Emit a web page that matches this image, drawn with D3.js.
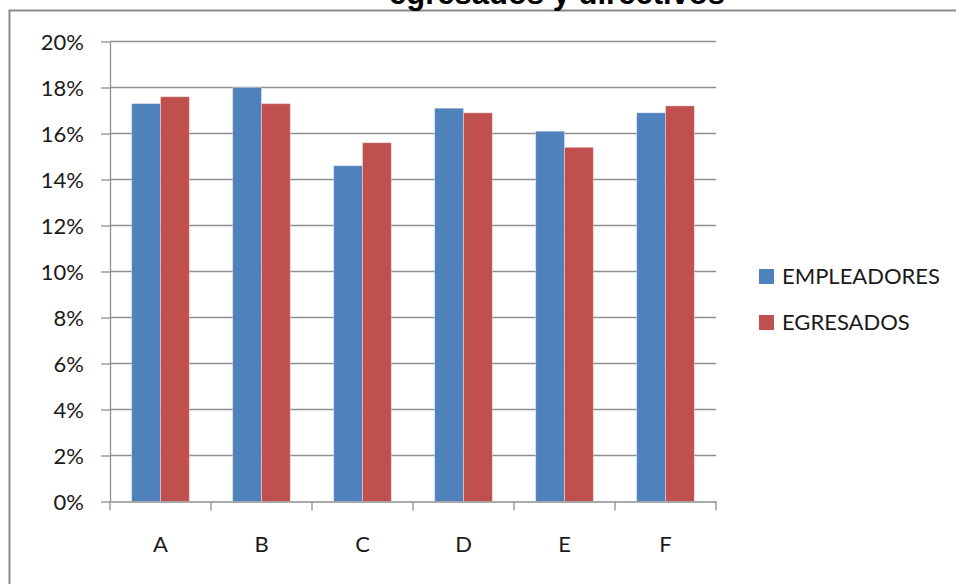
<!DOCTYPE html>
<html>
<head>
<meta charset="utf-8">
<script src="https://cdn.jsdelivr.net/npm/d3@7"></script>
<style>
  html, body { margin: 0; padding: 0; background: #fff; }
  svg { display: block; }
  .lbl { font-family: Lato, "Open Sans", sans-serif; fill: #1a1a1a; }
</style>
</head>
<body>
<svg id="chart" width="956" height="584"></svg>
<script>
// Category labels and the two survey series (share of responses per item)
const categories = ["A", "B", "C", "D", "E", "F"];
const seriesNames = ["EMPLEADORES", "EGRESADOS"];
const empleadores = [0.173, 0.180, 0.146, 0.171, 0.161, 0.169];
const egresados   = [0.176, 0.173, 0.156, 0.169, 0.154, 0.172];
const yTicks = [0, 0.02, 0.04, 0.06, 0.08, 0.10, 0.12, 0.14, 0.16, 0.18, 0.20];
const colors = ["#4F81BD", "#C0504D"];
const titleText = "egresados y directivos";

const svg = d3.select("#chart");
const W = 956, H = 584;
const plot = { left: 110, right: 716, top: 41.5, bottom: 501.5 };

// Chart area frame (extends beyond the visible canvas on the right and bottom)
svg.append("rect")
  .attr("x", 9.5).attr("y", 10.5)
  .attr("width", W + 20).attr("height", H + 20)
  .attr("fill", "#fff")
  .attr("stroke", "#8a8a8a").attr("stroke-width", 2);

// Title, partially cut off by the top edge
svg.append("text")
  .attr("x", 557).attr("y", 3.5)
  .attr("text-anchor", "middle")
  .style("font-family", "'Liberation Sans', Arial, sans-serif")
  .style("font-weight", "bold")
  .style("font-size", "31px")
  .attr("fill", "#000")
  .text(titleText);

const x0 = d3.scaleBand().domain(categories).range([plot.left, plot.right]).paddingInner(0).paddingOuter(0);
// Excel-style 150% gap width: each band = 2 bars + 1.5 bar widths of gap
const barW = x0.bandwidth() / 3.5;
const x1 = d3.scaleBand().domain(seriesNames).range([0.75 * barW, 2.75 * barW]).padding(0);
const y = d3.scaleLinear().domain([0, 0.20]).range([plot.bottom, plot.top]);

// Horizontal gridlines
svg.append("g")
  .selectAll("line")
  .data(yTicks.slice(1))
  .join("line")
  .attr("x1", plot.left).attr("x2", plot.right)
  .attr("y1", d => y(d)).attr("y2", d => y(d))
  .attr("stroke", "#8f8f8f").attr("stroke-width", 1.3);

// Bars
const rows = categories.map((c, i) => ({ cat: c, vals: [empleadores[i], egresados[i]] }));
svg.append("g")
  .selectAll("g")
  .data(rows)
  .join("g")
  .attr("transform", d => `translate(${x0(d.cat)},0)`)
  .selectAll("rect")
  .data(d => d.vals.map((v, k) => ({ name: seriesNames[k], v, k })))
  .join("rect")
  .attr("x", d => x1(d.name))
  .attr("width", x1.bandwidth())
  .attr("y", d => y(d.v))
  .attr("height", d => y(0) - y(d.v))
  .attr("fill", d => colors[d.k])
  .attr("stroke", "rgba(255,255,255,0.35)")
  .attr("stroke-width", 1);

// Y axis
const yAxis = d3.axisLeft(y)
  .tickValues(yTicks)
  .tickFormat(d3.format(".0%"))
  .tickSize(9)
  .tickPadding(17)
  .tickSizeOuter(0);
const gy = svg.append("g").attr("transform", `translate(${plot.left},0)`).call(yAxis);
gy.select(".domain").attr("stroke", "#8f8f8f").attr("stroke-width", 1.3);
gy.selectAll(".tick line").attr("stroke", "#8f8f8f").attr("stroke-width", 1.3);
gy.selectAll(".tick text")
  .attr("class", "lbl")
  .style("font-size", "22px")
  .attr("dy", "0.36em");

// X axis with ticks at band boundaries
const xAxis = d3.axisBottom(x0).tickSize(0).tickPadding(35).tickSizeOuter(0);
const gx = svg.append("g").attr("transform", `translate(0,${plot.bottom})`).call(xAxis);
gx.select(".domain").attr("stroke", "#8f8f8f").attr("stroke-width", 1.3);
gx.selectAll(".tick text")
  .attr("class", "lbl")
  .style("font-size", "22px");
const bounds = categories.map(c => x0(c)).concat([x0(categories[categories.length - 1]) + x0.bandwidth()]);
gx.append("g").selectAll("line")
  .data(bounds)
  .join("line")
  .attr("x1", d => d).attr("x2", d => d)
  .attr("y1", 0).attr("y2", 9)
  .attr("stroke", "#8f8f8f").attr("stroke-width", 1.3);

// Legend
const legend = svg.append("g").attr("transform", "translate(759,269)");
const items = legend.selectAll("g")
  .data(seriesNames)
  .join("g")
  .attr("transform", (d, i) => `translate(0,${i * 46})`);
items.append("rect")
  .attr("width", 15).attr("height", 15)
  .attr("fill", (d, i) => colors[i]);
items.append("text")
  .attr("class", "lbl")
  .attr("x", 23).attr("y", 7.5)
  .attr("dy", "0.36em")
  .style("font-size", "22px")
  .text(d => d);
</script>
</body>
</html>
